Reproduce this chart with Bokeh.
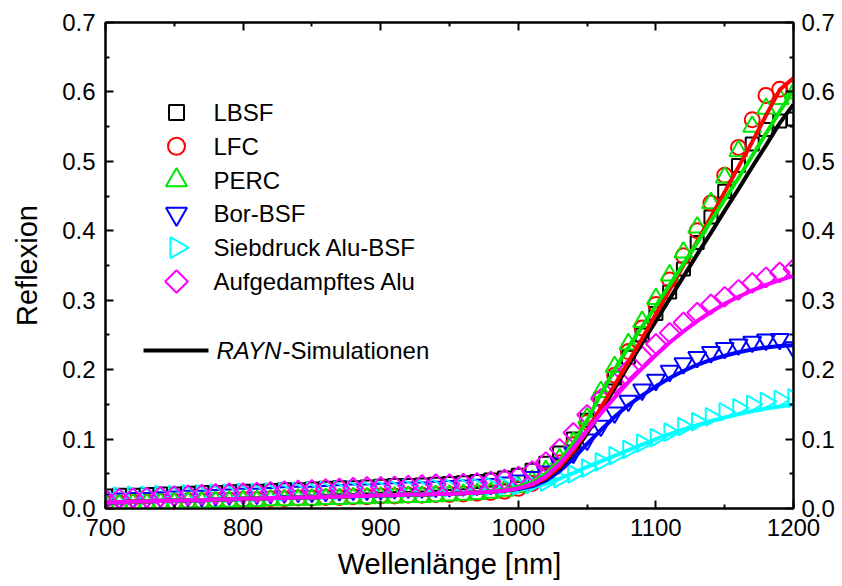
from bokeh.plotting import figure
from bokeh.models import (Range1d, LinearAxis, FixedTicker, NumeralTickFormatter,
                          Label, CustomJSTickFormatter, ColumnDataSource)
from bokeh.embed import file_html
from bokeh.resources import INLINE
import numpy as np

# ---------------- data ----------------
wavelength = list(range(700, 1201, 10))

meas_lbsf = [0.018, 0.019, 0.019, 0.020, 0.021, 0.021, 0.022, 0.023, 0.023, 0.024,
             0.025, 0.025, 0.026, 0.027, 0.027, 0.028, 0.029, 0.030, 0.030, 0.031,
             0.032, 0.033, 0.033, 0.034, 0.035, 0.036, 0.037, 0.039, 0.041, 0.044,
             0.048, 0.055, 0.065, 0.080, 0.100, 0.127, 0.158, 0.188, 0.218, 0.250,
             0.281, 0.312, 0.345, 0.383, 0.420, 0.457, 0.494, 0.525, 0.546, 0.558, 0.561]
meas_lfc = [0.008, 0.008, 0.009, 0.009, 0.010, 0.010, 0.011, 0.011, 0.012, 0.012,
            0.013, 0.013, 0.014, 0.014, 0.015, 0.015, 0.016, 0.016, 0.017, 0.017,
            0.018, 0.018, 0.019, 0.019, 0.020, 0.020, 0.021, 0.022, 0.023, 0.025,
            0.029, 0.036, 0.048, 0.066, 0.092, 0.124, 0.158, 0.192, 0.226, 0.260,
            0.294, 0.329, 0.364, 0.400, 0.440, 0.480, 0.520, 0.560, 0.595, 0.604, 0.607]
meas_perc = [0.006, 0.006, 0.007, 0.007, 0.008, 0.008, 0.009, 0.009, 0.010, 0.010,
             0.011, 0.011, 0.012, 0.012, 0.013, 0.013, 0.014, 0.014, 0.015, 0.015,
             0.016, 0.016, 0.017, 0.017, 0.018, 0.019, 0.020, 0.021, 0.023, 0.026,
             0.031, 0.040, 0.054, 0.071, 0.095, 0.130, 0.168, 0.204, 0.237, 0.269,
             0.302, 0.336, 0.369, 0.405, 0.440, 0.477, 0.515, 0.550, 0.576, 0.590, 0.598]
meas_bor = [0.013, 0.014, 0.015, 0.015, 0.016, 0.017, 0.018, 0.018, 0.019, 0.020,
            0.021, 0.021, 0.022, 0.023, 0.024, 0.024, 0.025, 0.026, 0.027, 0.027,
            0.028, 0.029, 0.030, 0.030, 0.031, 0.032, 0.033, 0.034, 0.035, 0.037,
            0.040, 0.045, 0.053, 0.065, 0.080, 0.099, 0.119, 0.138, 0.155, 0.171,
            0.185, 0.198, 0.209, 0.218, 0.225, 0.231, 0.236, 0.240, 0.243, 0.244, 0.232]
meas_sieb = [0.018, 0.018, 0.019, 0.019, 0.020, 0.020, 0.021, 0.021, 0.022, 0.022,
             0.023, 0.023, 0.024, 0.024, 0.025, 0.025, 0.026, 0.026, 0.027, 0.027,
             0.028, 0.028, 0.029, 0.029, 0.030, 0.030, 0.031, 0.031, 0.032, 0.032,
             0.033, 0.035, 0.038, 0.043, 0.050, 0.058, 0.067, 0.076, 0.085, 0.094,
             0.102, 0.110, 0.118, 0.125, 0.132, 0.139, 0.145, 0.150, 0.154, 0.157, 0.159]
meas_aufg = [0.013, 0.014, 0.015, 0.016, 0.017, 0.018, 0.019, 0.020, 0.021, 0.022,
             0.022, 0.023, 0.024, 0.025, 0.026, 0.027, 0.028, 0.029, 0.030, 0.031,
             0.031, 0.032, 0.033, 0.034, 0.035, 0.035, 0.036, 0.037, 0.039, 0.042,
             0.046, 0.054, 0.067, 0.086, 0.109, 0.135, 0.158, 0.180, 0.200, 0.219,
             0.237, 0.253, 0.268, 0.282, 0.294, 0.305, 0.315, 0.325, 0.333, 0.340, 0.345]

sim_lbsf = [0.009, 0.009, 0.010, 0.010, 0.011, 0.011, 0.012, 0.012, 0.013, 0.013,
            0.014, 0.014, 0.015, 0.015, 0.016, 0.016, 0.017, 0.017, 0.018, 0.018,
            0.019, 0.019, 0.020, 0.020, 0.021, 0.021, 0.022, 0.023, 0.024, 0.026,
            0.029, 0.034, 0.043, 0.058, 0.080, 0.108, 0.140, 0.173, 0.206, 0.238,
            0.270, 0.302, 0.334, 0.366, 0.397, 0.429, 0.460, 0.492, 0.523, 0.555, 0.582]
sim_lfc = [0.009, 0.009, 0.010, 0.010, 0.011, 0.011, 0.012, 0.012, 0.013, 0.013,
           0.014, 0.014, 0.015, 0.015, 0.016, 0.016, 0.017, 0.017, 0.018, 0.018,
           0.019, 0.019, 0.020, 0.020, 0.021, 0.021, 0.022, 0.023, 0.024, 0.026,
           0.029, 0.034, 0.044, 0.060, 0.083, 0.112, 0.145, 0.178, 0.211, 0.245,
           0.280, 0.315, 0.350, 0.385, 0.420, 0.456, 0.492, 0.528, 0.566, 0.603, 0.620]
sim_perc = [0.009, 0.009, 0.010, 0.010, 0.011, 0.011, 0.012, 0.012, 0.013, 0.013,
            0.014, 0.014, 0.015, 0.015, 0.016, 0.016, 0.017, 0.017, 0.018, 0.018,
            0.019, 0.019, 0.020, 0.020, 0.021, 0.021, 0.022, 0.023, 0.025, 0.027,
            0.031, 0.038, 0.050, 0.068, 0.094, 0.127, 0.165, 0.200, 0.232, 0.262,
            0.292, 0.322, 0.352, 0.383, 0.414, 0.445, 0.476, 0.508, 0.540, 0.572, 0.603]
sim_bor = [0.009, 0.009, 0.010, 0.010, 0.011, 0.011, 0.012, 0.012, 0.013, 0.013,
           0.014, 0.014, 0.015, 0.015, 0.016, 0.016, 0.017, 0.017, 0.018, 0.018,
           0.019, 0.019, 0.020, 0.020, 0.021, 0.021, 0.022, 0.023, 0.024, 0.026,
           0.028, 0.032, 0.040, 0.054, 0.072, 0.093, 0.113, 0.132, 0.149, 0.163,
           0.176, 0.188, 0.198, 0.207, 0.214, 0.220, 0.225, 0.229, 0.232, 0.234, 0.235]
sim_sieb = [0.009, 0.009, 0.010, 0.010, 0.011, 0.011, 0.012, 0.012, 0.013, 0.013,
            0.014, 0.014, 0.015, 0.015, 0.016, 0.016, 0.017, 0.017, 0.018, 0.018,
            0.019, 0.019, 0.020, 0.020, 0.021, 0.021, 0.022, 0.023, 0.024, 0.025,
            0.027, 0.030, 0.036, 0.043, 0.051, 0.060, 0.068, 0.076, 0.084, 0.092,
            0.100, 0.107, 0.114, 0.120, 0.126, 0.131, 0.136, 0.140, 0.144, 0.147, 0.150]
sim_aufg = [0.009, 0.009, 0.010, 0.010, 0.011, 0.011, 0.012, 0.012, 0.013, 0.013,
            0.014, 0.014, 0.015, 0.015, 0.016, 0.016, 0.017, 0.017, 0.018, 0.018,
            0.019, 0.019, 0.020, 0.020, 0.021, 0.021, 0.022, 0.023, 0.024, 0.026,
            0.029, 0.035, 0.046, 0.064, 0.087, 0.112, 0.137, 0.160, 0.182, 0.202,
            0.221, 0.239, 0.255, 0.270, 0.283, 0.295, 0.305, 0.314, 0.322, 0.329, 0.335]

series_labels = ["LBSF", "LFC", "PERC", "Bor-BSF", "Siebdruck Alu-BSF", "Aufgedampftes Alu"]
series_colors = ["#000000", "#FF0000", "#00E600", "#0000FF", "#00FFFF", "#FF00FF"]
x_ticks = [700, 800, 900, 1000, 1100, 1200]
x_minor = [750, 850, 950, 1050, 1150]
y_ticks = [0.0, 0.1, 0.2, 0.3, 0.4, 0.5, 0.6, 0.7]
y_minor = [0.05, 0.15, 0.25, 0.35, 0.45, 0.55, 0.65]

FONT = "Liberation Sans"
W, H = 842, 586
FL, FR, FT, FB = 105, 49, 22, 78          # frame borders (px)
FW, FH = W - FL - FR, H - FT - FB           # frame size

p = figure(width=W, height=H, x_range=Range1d(700, 1200), y_range=Range1d(0, 0.7),
           output_backend="svg", toolbar_location=None,
           min_border_left=FL, min_border_right=FR, min_border_top=FT, min_border_bottom=FB)
p.xgrid.visible = False
p.ygrid.visible = False
p.outline_line_color = "black"
p.outline_line_width = 2
p.background_fill_color = "white"
p.border_fill_color = "white"

# pixel ranges for the legend block (origin at top-left of the frame)
p.extra_x_ranges["px"] = Range1d(0, FW)
p.extra_y_ranges["py"] = Range1d(FH, 0)

xt = FixedTicker(ticks=x_ticks, minor_ticks=x_minor)
yt = FixedTicker(ticks=y_ticks, minor_ticks=y_minor)


def style_axis(ax, labels=True):
    ax.axis_line_width = 2
    ax.axis_line_color = "black"
    ax.major_tick_in = 8
    ax.major_tick_out = 0
    ax.minor_tick_in = 4
    ax.minor_tick_out = 0
    ax.major_tick_line_width = 2
    ax.minor_tick_line_width = 2
    ax.major_label_text_font = FONT
    ax.major_label_text_font_size = "24px" if labels else "0px"
    ax.major_label_text_color = "black"
    ax.axis_label_text_font = FONT
    ax.axis_label_text_font_size = "29px"
    ax.axis_label_text_font_style = "normal"
    ax.axis_label_text_color = "black"


xa = p.xaxis[0]
xa.ticker = xt
style_axis(xa)
xa.major_label_standoff = 10
xa.axis_label = "Wellenlänge [nm]"
xa.axis_label_standoff = 9

ya = p.yaxis[0]
ya.ticker = yt
ya.formatter = NumeralTickFormatter(format="0.0")
style_axis(ya)
ya.major_label_standoff = 10
ya.axis_label = "Reflexion"
ya.axis_label_standoff = 16

ra = LinearAxis(ticker=yt, formatter=NumeralTickFormatter(format="0.0"))
style_axis(ra)
ra.major_label_standoff = 8
p.add_layout(ra, "right")

ta = LinearAxis(ticker=xt, formatter=CustomJSTickFormatter(code="return ''"))
style_axis(ta, labels=False)
ta.major_label_standoff = 0
p.add_layout(ta, "above")

# ---------------- measured markers ----------------
meas = [meas_lbsf, meas_lfc, meas_perc, meas_bor, meas_sieb, meas_aufg]
sims = [sim_lbsf, sim_lfc, sim_perc, sim_bor, sim_sieb, sim_aufg]
markers = [("square", 13, 0.0), ("circle", 15, 0.0), ("triangle", 18, 0.0),
           ("inverted_triangle", 18, 0.0), ("triangle", 18, -np.pi / 2), ("square", 14, np.pi / 4)]
legend_sizes = [15, 17, 21, 21, 21, 16]

for vals, col, (mk, sz, ang) in zip(meas, series_colors, markers):
    src = ColumnDataSource(dict(x=wavelength, y=vals))
    p.scatter("x", "y", source=src, marker=mk, size=sz, angle=ang,
              line_color=col, line_width=2, fill_color=None)

# ---------------- simulation lines ----------------
line_order = [4, 3, 0, 1, 2, 5]
for i in line_order:
    p.line(wavelength, sims[i], line_color=series_colors[i], line_width=4)

# ---------------- legend (drawn in frame pixel coordinates) ----------------
LEG_SYM_X = 176 - FL
LEG_TXT_X = 213 - FL
LEG_ROW0 = 112 - FT
LEG_STEP = 33.8
for k, (lab, col, (mk, sz, ang), lsz) in enumerate(zip(series_labels, series_colors, markers, legend_sizes)):
    yk = LEG_ROW0 + k * LEG_STEP
    p.scatter([LEG_SYM_X], [yk], x_range_name="px", y_range_name="py", marker=mk, size=lsz,
              angle=ang, line_color=col, line_width=2, fill_color=None)
    p.add_layout(Label(x=LEG_TXT_X, y=FH - yk, x_units="screen", y_units="screen", text=lab,
                       text_font=FONT, text_font_size="24px", text_baseline="middle",
                       text_color="black"))

SIM_ROW = 350 - FT
p.line([143 - FL, 208 - FL], [SIM_ROW, SIM_ROW], x_range_name="px", y_range_name="py",
       line_color="black", line_width=4)
p.add_layout(Label(x=216 - FL, y=FH - SIM_ROW, x_units="screen", y_units="screen", text="RAYN",
                   text_font=FONT, text_font_style="italic", text_font_size="24px",
                   text_baseline="middle", text_color="black"))
p.add_layout(Label(x=282 - FL, y=FH - SIM_ROW, x_units="screen", y_units="screen",
                   text="-Simulationen", text_font=FONT, text_font_size="24px",
                   text_baseline="middle", text_color="black"))

open("out.html", "w").write(file_html(p, INLINE))
